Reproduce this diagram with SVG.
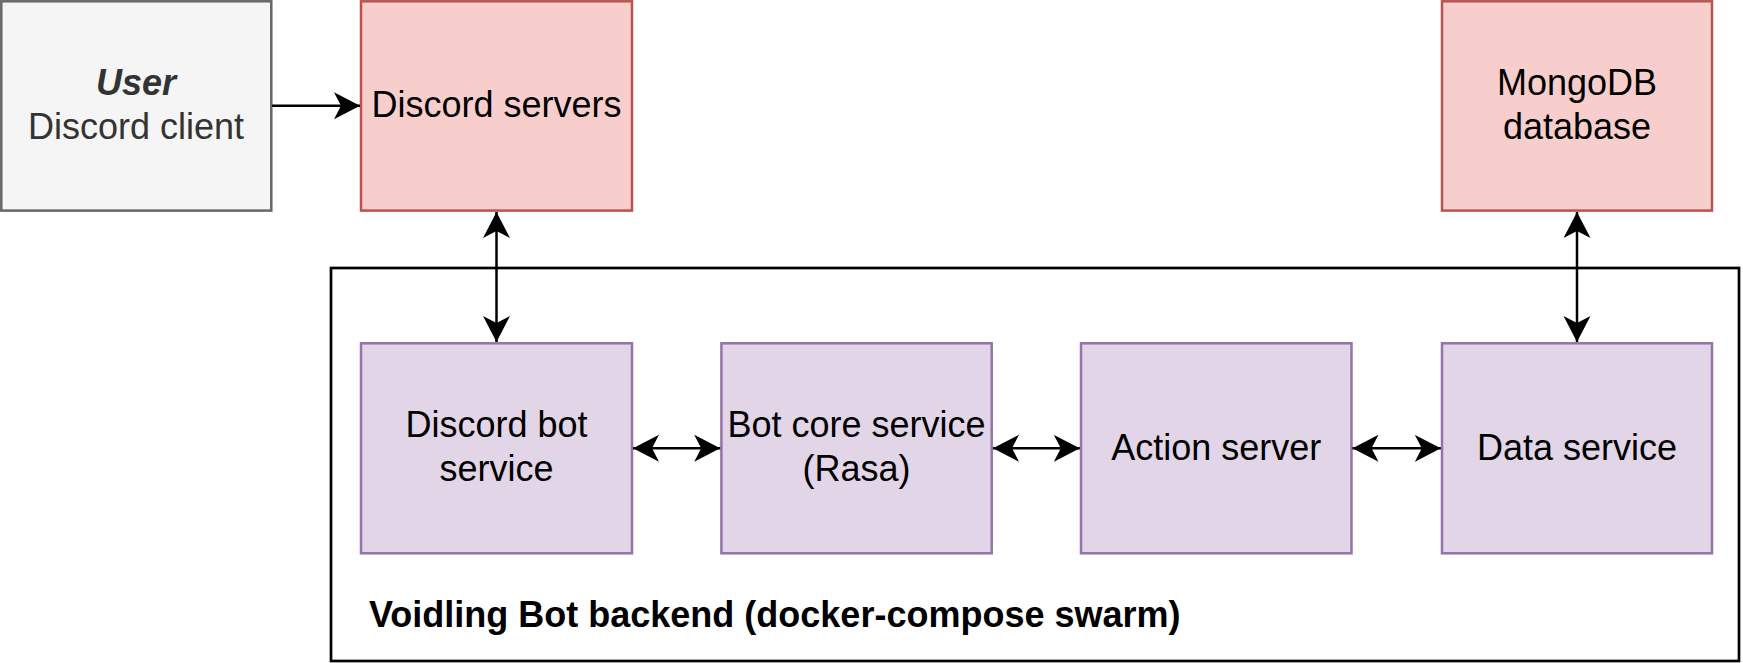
<svg xmlns="http://www.w3.org/2000/svg" width="1743" height="663" viewBox="0 0 1743 663">
<style>
text{font-family:"Liberation Sans",Arial,Helvetica,sans-serif;font-size:36px;fill:#000;text-anchor:middle}
.gray{fill:#f5f5f5;stroke:#666666;stroke-width:2.5}
.gray-t{fill:#333333}
.red{fill:#f8cecc;stroke:#b85450;stroke-width:2.5}
.purple{fill:#e1d5e7;stroke:#9673a6;stroke-width:2.5}
.container{fill:#ffffff;stroke:#000000;stroke-width:2.7}
.edge{fill:none;stroke:#000;stroke-width:2.5;marker-end:url(#arrow)}
.both{marker-start:url(#arrow)}
</style>
<defs>
<marker id="arrow" markerUnits="userSpaceOnUse" markerWidth="27" markerHeight="28" viewBox="0 0 27 28" refX="26" refY="14" orient="auto-start-reverse">
<path d="M0,0.5 L26,14 L0,27.5 L7,14 Z" fill="#000"/>
</marker>
</defs>
<rect width="1743" height="663" fill="#ffffff"/>
<g id="container">
<rect class="container" x="331" y="268" width="1408" height="393"/>
<text x="369" y="627" style="text-anchor:start;font-weight:bold">Voidling Bot backend (docker-compose swarm)</text>
</g>
<g id="user">
<rect class="gray" x="1.3" y="1.3" width="270" height="209.3"/>
<text class="gray-t" x="136" y="95" style="font-weight:bold;font-style:italic">User</text>
<text class="gray-t" x="136" y="138.5">Discord client</text>
</g>
<g id="discord-servers">
<rect class="red" x="361" y="1.3" width="271" height="209.3"/>
<text x="496.5" y="116.8">Discord servers</text>
</g>
<g id="mongodb">
<rect class="red" x="1442" y="1.3" width="270" height="209.3"/>
<text x="1577" y="95">MongoDB</text>
<text x="1577" y="138.5">database</text>
</g>
<g id="discord-bot-service">
<rect class="purple" x="361" y="343.3" width="271" height="210"/>
<text x="496.5" y="437">Discord bot</text>
<text x="496.5" y="480.5">service</text>
</g>
<g id="bot-core-service">
<rect class="purple" x="721.4" y="343.3" width="270.3" height="210"/>
<text x="856.5" y="437">Bot core service</text>
<text x="856.5" y="480.5">(Rasa)</text>
</g>
<g id="action-server">
<rect class="purple" x="1081" y="343.3" width="270.5" height="210"/>
<text x="1216.3" y="459.5">Action server</text>
</g>
<g id="data-service">
<rect class="purple" x="1442" y="343.3" width="270" height="210"/>
<text x="1577" y="459.5">Data service</text>
</g>
<g id="connectors">
<path class="edge" d="M272,105.8 L360,105.8"/>
<path class="edge both" d="M496.5,212 L496.5,342"/>
<path class="edge both" d="M1577,212 L1577,342"/>
<path class="edge both" d="M633,448.3 L720.2,448.3"/>
<path class="edge both" d="M993,448.3 L1079.8,448.3"/>
<path class="edge both" d="M1352.5,448.3 L1440.8,448.3"/>
</g>
</svg>
